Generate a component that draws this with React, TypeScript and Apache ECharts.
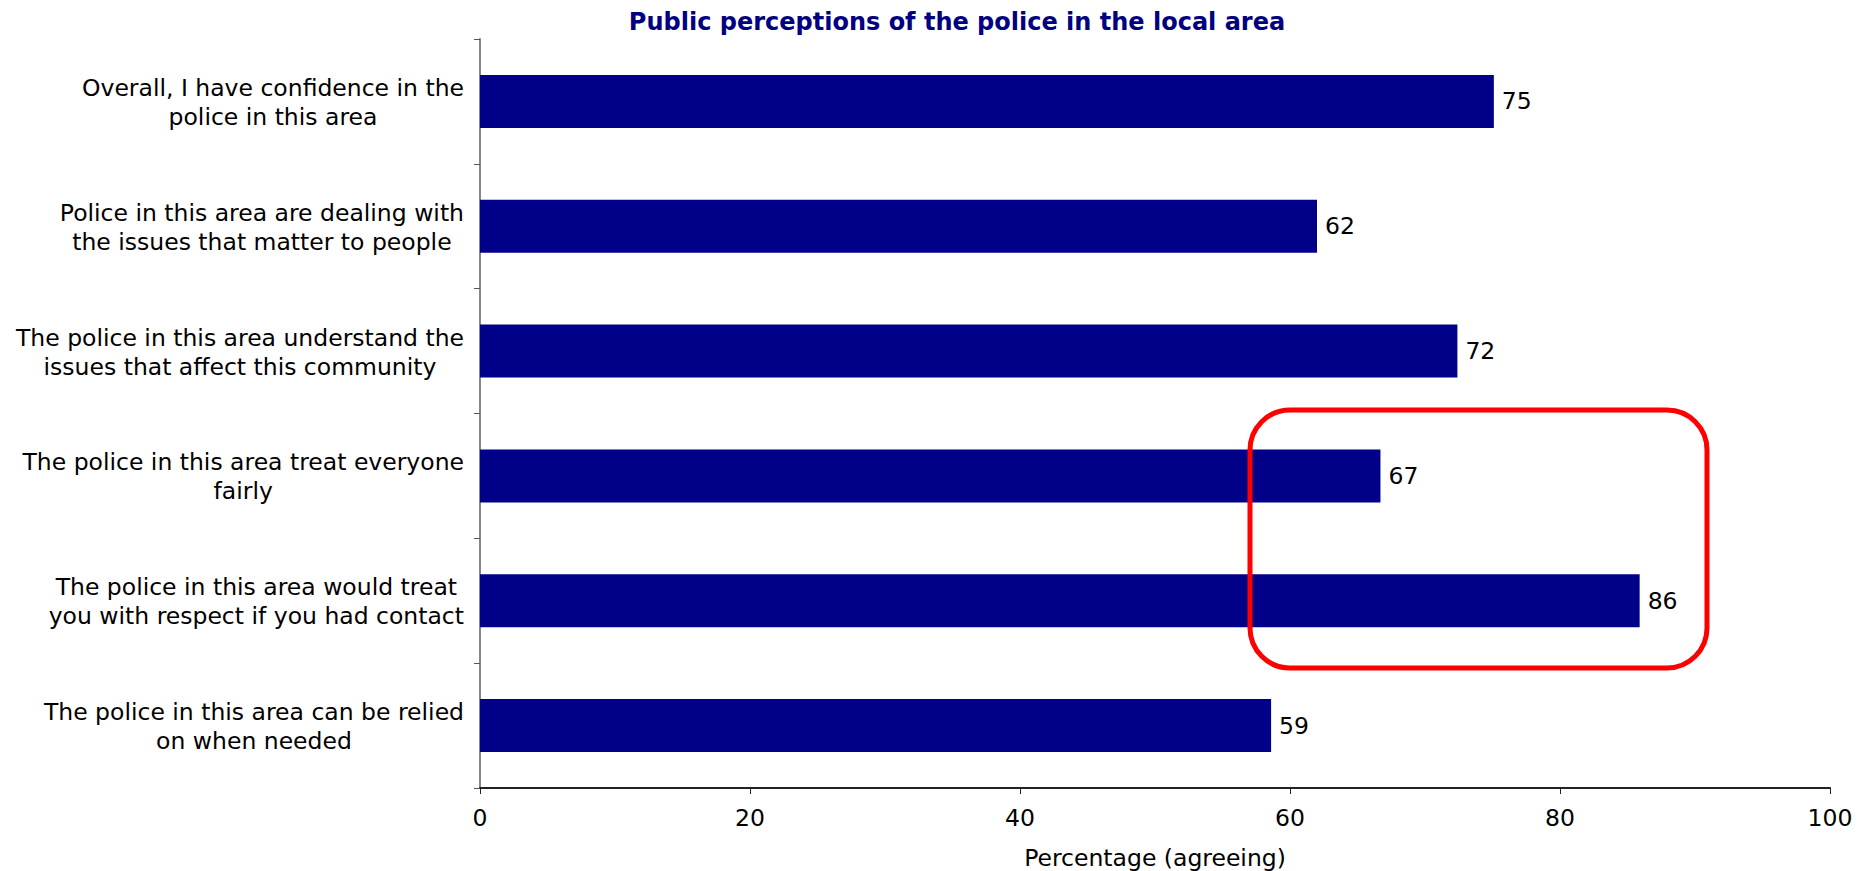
import React, { useEffect, useRef } from "react";
import * as echarts from "echarts";

const TITLE = "Public perceptions of the police in the local area";
const X_AXIS_NAME = "Percentage (agreeing)";
const categories = [
  "Overall, I have confidence in the\npolice in this area",
  "Police in this area are dealing with\nthe issues that matter to people",
  "The police in this area understand the\nissues that affect this community",
  "The police in this area treat everyone\nfairly",
  "The police in this area would treat\nyou with respect if you had contact",
  "The police in this area can be relied\non when needed",
];
const values = [75.1, 62.0, 72.4, 66.7, 85.9, 58.6];
const xMin = 0;
const xMax = 100;
const xInterval = 20;

const FONT = '"DejaVu Sans", Verdana, sans-serif';

export default function App() {
  const ref = useRef<HTMLDivElement>(null);
  useEffect(() => {
    if (!ref.current) return;
    const chart = echarts.init(ref.current, null, { renderer: "svg" });
    chart.setOption({
      animation: false,
      backgroundColor: "#ffffff",
      title: {
        text: TITLE,
        left: 952,
        top: 5,
        textAlign: "center",
        textStyle: { fontFamily: FONT, fontSize: 24, fontWeight: "bold", color: "#000080" },
      },
      grid: { left: 480, right: 42, top: 39, bottom: 83, containLabel: false, outerBoundsMode: "none" },
      xAxis: {
        type: "value",
        min: xMin,
        max: xMax,
        interval: xInterval,
        name: X_AXIS_NAME,
        nameLocation: "middle",
        nameGap: 58,
        nameTextStyle: { fontFamily: FONT, fontSize: 23.5, color: "#000000" },
        axisLine: { show: true, lineStyle: { color: "#222222", width: 2 } },
        axisTick: { show: true, length: 6, lineStyle: { color: "#222222" } },
        axisLabel: { fontFamily: FONT, fontSize: 23.5, color: "#000000", margin: 18 },
        splitLine: { show: false },
      },
      yAxis: {
        type: "category",
        inverse: true,
        data: categories,
        axisLine: { show: true, lineStyle: { color: "#888888", width: 2 } },
        axisTick: { show: true, length: 6, interval: 0, lineStyle: { color: "#555555" } },
        axisLabel: {
          interval: 0,
          margin: 16,
          align: "right",
          formatter: (v: string) => v.split("\n").map((l) => `{c|${l}}`).join("\n"),
          rich: {
            c: { align: "center", fontFamily: FONT, fontSize: 23.5, lineHeight: 29, color: "#000000", padding: [2, 0, 0, 0] },
          },
        },
        splitLine: { show: false },
      },
      series: [
        {
          type: "bar",
          data: values,
          barCategoryGap: "57.5%",
          itemStyle: { color: "#000088" },
          label: {
            show: true,
            position: "right",
            distance: 8,
            fontFamily: FONT,
            fontSize: 23.5,
            color: "#000000",
            formatter: (p: any) => String(Math.round(p.value)),
          },
        },
      ],
      graphic: [
        {
          type: "rect",
          shape: { x: 1250, y: 410, width: 457, height: 258, r: 40 },
          style: { fill: "none", stroke: "#ff0000", lineWidth: 5 },
          z: 100,
        },
      ],
    });
    return () => chart.dispose();
  }, []);
  return (
    <div
      ref={ref}
      style={{ position: "fixed", left: 0, top: 0, width: 1872, height: 871 }}
    />
  );
}
